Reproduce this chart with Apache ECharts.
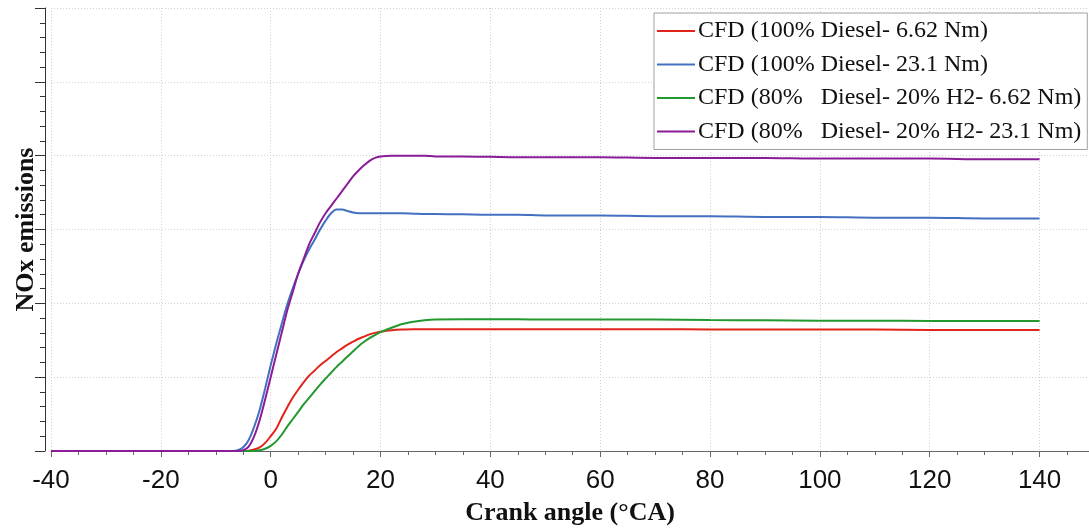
<!DOCTYPE html>
<html>
<head>
<meta charset="utf-8">
<script src="https://cdn.jsdelivr.net/npm/echarts@6/dist/echarts.min.js"></script>
<style>
  html, body { margin: 0; padding: 0; background: #fff; }
  #chart { width: 1089px; height: 531px; }
</style>
</head>
<body>
<div id="chart"></div>
<script>
// crank angle samples (°CA)
const angles = [-40, -10, -7, -6, -5, -4, -3, -2, -1, 0, 1, 2, 3, 4, 5, 6, 7, 8, 9, 10,
  11, 12, 13, 14, 15, 16, 17, 18, 19, 20, 22, 24, 26, 28, 30, 35, 40, 45, 50,
  60, 70, 80, 90, 100, 110, 120, 130, 140];

// NOx, 100% diesel, 6.62 Nm
const diesel662 = [0, 0, 0, 0, 0, 0.005, 0.02, 0.05, 0.11, 0.2, 0.3, 0.45, 0.59, 0.72, 0.83, 0.93, 1.02, 1.09, 1.16, 1.22,
  1.28, 1.34, 1.39, 1.44, 1.48, 1.52, 1.55, 1.58, 1.6, 1.615, 1.635, 1.645, 1.65, 1.65, 1.65, 1.65, 1.65, 1.65, 1.65,
  1.65, 1.65, 1.645, 1.645, 1.645, 1.645, 1.64, 1.64, 1.64];

// NOx, 100% diesel, 23.1 Nm
const diesel231 = [0, 0, 0, 0.01, 0.05, 0.15, 0.33, 0.56, 0.85, 1.16, 1.45, 1.72, 1.98, 2.2, 2.4, 2.58, 2.73, 2.86, 3.0, 3.12,
  3.22, 3.27, 3.27, 3.25, 3.23, 3.22, 3.22, 3.22, 3.22, 3.22, 3.22, 3.22, 3.215, 3.21, 3.21, 3.205, 3.2, 3.2, 3.19,
  3.19, 3.18, 3.18, 3.17, 3.17, 3.16, 3.16, 3.15, 3.15];

// NOx, 80% diesel + 20% H2, 6.62 Nm
const h2662 = [0, 0, 0, 0, 0, 0, 0, 0.01, 0.03, 0.07, 0.13, 0.22, 0.33, 0.43, 0.53, 0.63, 0.72, 0.81, 0.9, 0.98,
  1.06, 1.14, 1.21, 1.28, 1.35, 1.42, 1.48, 1.53, 1.57, 1.61, 1.67, 1.72, 1.75, 1.77, 1.78, 1.785, 1.785, 1.785, 1.78,
  1.78, 1.78, 1.775, 1.77, 1.765, 1.765, 1.76, 1.76, 1.76];

// NOx, 80% diesel + 20% H2, 23.1 Nm
const h2231 = [0, 0, 0, 0, 0.01, 0.06, 0.2, 0.42, 0.7, 1.0, 1.3, 1.6, 1.9, 2.15, 2.4, 2.6, 2.8, 2.95, 3.1, 3.22,
  3.32, 3.42, 3.52, 3.62, 3.72, 3.8, 3.87, 3.93, 3.97, 3.99, 4.0, 4.0, 4.0, 4.0, 3.99, 3.99, 3.985, 3.98, 3.98,
  3.98, 3.97, 3.97, 3.97, 3.96, 3.96, 3.96, 3.95, 3.95];

const seriesNames = [
  'CFD (100% Diesel- 6.62 Nm)',
  'CFD (100% Diesel- 23.1 Nm)',
  'CFD (80%   Diesel- 20% H2- 6.62 Nm)',
  'CFD (80%   Diesel- 20% H2- 23.1 Nm)'
];
const seriesValues = [diesel662, diesel231, h2662, h2231];
const seriesColors = ['#e2231a', '#4470c0', '#22982e', '#8a1c98'];

const pairs = vals => angles.map((a, i) => [a, vals[i]]);

const chart = echarts.init(document.getElementById('chart'));
chart.setOption({
  animation: false,
  grid: { left: 51, right: 0, top: 8, bottom: 74 },
  legend: {
    data: seriesNames,
    orient: 'vertical',
    left: 654,
    top: 13,
    padding: [5, 6, 5, 3],
    itemGap: 7.5,
    itemWidth: 38,
    itemHeight: 2,
    icon: 'rect',
    backgroundColor: '#fff',
    borderColor: '#a0a0a0',
    borderWidth: 1,
    textStyle: { fontFamily: 'Liberation Serif', fontSize: 24, lineHeight: 26, color: '#111', padding: [0, 0, 0, -2] }
  },
  xAxis: {
    type: 'value',
    min: -40,
    max: 149,
    interval: 20,
    offset: 5,
    name: 'Crank angle (°CA)',
    nameLocation: 'middle',
    nameGap: 44,
    nameTextStyle: { fontFamily: 'Liberation Serif', fontWeight: 'bold', fontSize: 26, color: '#111' },
    axisLine: { lineStyle: { color: '#666', width: 1 } },
    axisTick: { length: 6, lineStyle: { color: '#666' } },
    minorTick: { show: true, splitNumber: 4, length: 4, lineStyle: { color: '#666' } },
    axisLabel: { fontFamily: 'Liberation Sans', fontSize: 26, color: '#111', margin: 12, showMaxLabel: false },
    splitLine: { show: true, lineStyle: { color: '#d0d0d0', type: [1, 2] } }
  },
  yAxis: {
    type: 'value',
    min: 0,
    max: 6,
    interval: 1,
    offset: 6,
    name: 'NOx emissions',
    nameLocation: 'middle',
    nameGap: 6,
    nameTextStyle: { fontFamily: 'Liberation Serif', fontWeight: 'bold', fontSize: 26, color: '#111' },
    axisLine: { show: true, onZero: false, lineStyle: { color: '#333', width: 1 } },
    axisTick: { show: true, length: 10, lineStyle: { color: '#333' } },
    minorTick: { show: true, splitNumber: 5, length: 5, lineStyle: { color: '#333' } },
    axisLabel: { show: false },
    splitLine: { show: true, lineStyle: { color: '#d0d0d0', type: [1, 2] } }
  },
  series: seriesValues.map((vals, i) => ({
    name: seriesNames[i],
    type: 'line',
    data: pairs(vals),
    showSymbol: false,
    smooth: 0.3,
    color: seriesColors[i],
    lineStyle: { width: 2, color: seriesColors[i] }
  }))
});
</script>
</body>
</html>
